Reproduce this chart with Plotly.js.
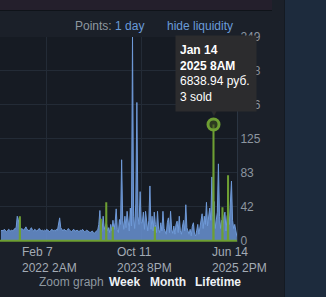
<!DOCTYPE html>
<html>
<head>
<meta charset="utf-8">
<script src="https://cdn.plot.ly/plotly-3.0.1.min.js"></script>
<style>
html,body{margin:0;padding:0;background:#1b2029;overflow:hidden;}
#chart{width:326px;height:297px;}
</style>
</head>
<body>
<div id="chart"></div>
<script>
// Weekly liquidity (blue) series, first week starting 2021-04-17
const blueStart = '2021-04-17';
const blueValues = [
  12,13,12,14,13,11,12,14,13,12,
  13,12,14,15,16,30,26,14,13,15,
  14,13,15,17,14,13,12,14,16,13,
  12,14,13,12,13,15,14,12,13,12,
  13,12,14,13,12,11,13,14,12,13,
  12,14,13,20,28,16,13,12,14,13,
  12,13,15,13,12,11,13,14,12,12,
  13,12,11,13,12,14,12,11,12,13,
  12,11,10,11,12,10,9,11,12,13,
  20,37,10,12,30,14,18,22,12,16,
  10,20,12,25,14,22,39,14,10,26,
  20,99,25,14,30,16,36,20,12,40,
  18,250,30,15,45,169,30,20,60,22,
  22,35,14,36,20,12,25,67,14,30,
  12,35,20,10,36,14,10,22,12,36,
  15,10,8,22,28,10,36,14,9,18,
  8,20,24,10,30,12,8,18,25,12,
  44,16,10,8,14,6,18,22,8,6,
  12,20,8,16,26,33,15,30,20,47,
  18,28,40,25,78,30,48,15,28,35,
  94,30,15,25,10,30,35,12,30,35,
  20,40,73,25,15,20,10,5
];

// Price / sales (green) series
const greenDates = [
  '2021-04-11','2021-08-16','2021-08-17','2021-08-18',
  '2023-01-19','2023-01-20','2023-01-21',
  '2023-02-23','2023-02-24','2023-02-25',
  '2023-04-06','2023-04-07','2023-04-08',
  '2024-01-02','2024-01-03','2024-01-04',
  '2025-01-13','2025-01-14 08:00','2025-01-15',
  '2025-03-12','2025-03-13','2025-03-14',
  '2025-04-17','2025-04-18','2025-04-19',
  '2025-06-14 14:00'
];
const greenValues = [
  0,0,30,0,
  0,27,0,
  0,47,0,
  0,17,0,
  0,17,0,
  0,142,0,
  0,41,0,
  0,80,0,
  0
];

// Hovered point
const hoverDate = ['2025-01-14 08:00'];
const hoverValue = [142];
const hoverText = '<b>Jan 14</b><br><b>2025 8AM</b><br>6838.94 руб.<br>3 sold';

// Axes
const xTickDates = ['2022-02-07 02:00','2023-10-11 20:00','2025-06-14 14:00'];
const xTickTexts = ['Feb 7<br>2022 2AM','Oct 11<br>2023 8PM','Jun 14<br>2025 2PM'];
const yTickVals = [0,42,83,125,166,208,249];
const yTickText = ['0','42','83','125','166','208','249'];
const xRange = ['2021-04-11','2025-06-14 14:00'];

// build weekly dates
const blueDates = [];
{
  const d0 = new Date(blueStart + 'T00:00:00Z');
  for (let i = 0; i < blueValues.length; i++) {
    const d = new Date(d0.getTime() + i * 7 * 86400000);
    blueDates.push(d.toISOString().slice(0,10));
  }
}

const FONT = 'Liberation Sans, Arial, sans-serif';
const traces = [
  {
    x: blueDates, y: blueValues, type: 'scatter', mode: 'lines',
    line: {color: '#6f9ad8', width: 1, shape: 'linear'},
    fill: 'tozeroy', fillcolor: 'rgba(104,146,210,0.85)', hoverinfo: 'skip'
  },
  {
    x: greenDates, y: greenValues, type: 'scatter', mode: 'lines',
    line: {color: '#6e9f33', width: 2}, hoverinfo: 'skip'
  },
  {
    x: hoverDate, y: hoverValue, type: 'scatter', mode: 'markers',
    marker: {symbol: 'circle', size: 11, color: 'rgba(60,80,30,0.6)', line: {color: '#6e9f33', width: 3}},
    hoverinfo: 'skip', cliponaxis: false
  }
];

const annotations = [];
for (let i = 0; i < xTickDates.length; i++) {
  annotations.push({
    xref: 'x', yref: 'paper', x: xTickDates[i], y: 0,
    xanchor: 'left', yanchor: 'top', xshift: -27, yshift: -1, align: 'left',
    showarrow: false, text: xTickTexts[i],
    font: {family: FONT, size: 12, color: '#a3abb5'}
  });
}
const P = v => v/237, Q = v => (242 - v)/205;
annotations.push(
  {xref:'paper', yref:'paper', x: P(73), y: Q(26), xanchor:'left', yanchor:'middle', showarrow:false,
   text:'<span style="color:#8f98a0">Points: </span><span style="color:#6a9bd8">1 day</span>',
   font:{family:FONT, size:12, color:'#8f98a0'}},
  {xref:'paper', yref:'paper', x: P(165), y: Q(26), xanchor:'left', yanchor:'middle', showarrow:false,
   text:'hide liquidity', font:{family:FONT, size:12, color:'#6a9bd8'}},
  {xref:'paper', yref:'paper', x: P(37), y: Q(282), xanchor:'left', yanchor:'middle', showarrow:false,
   text:'Zoom graph', font:{family:FONT, size:12, color:'#8f98a0'}},
  {xref:'paper', yref:'paper', x: P(107), y: Q(282), xanchor:'left', yanchor:'middle', showarrow:false,
   text:'<b>Week</b>', font:{family:FONT, size:12, color:'#eef2f6'}},
  {xref:'paper', yref:'paper', x: P(148), y: Q(282), xanchor:'left', yanchor:'middle', showarrow:false,
   text:'<b>Month</b>', font:{family:FONT, size:12, color:'#eef2f6'}},
  {xref:'paper', yref:'paper', x: P(193), y: Q(282), xanchor:'left', yanchor:'middle', showarrow:false,
   text:'<b>Lifetime</b>', font:{family:FONT, size:12, color:'#eef2f6'}},
  {xref:'x', yref:'y', x: hoverDate[0], y: hoverValue[0], xanchor:'center', yanchor:'bottom', yshift: 6,
   showarrow:false, text:'▼', font:{family:'DejaVu Sans', size:10, color:'#2c2c2e'}},
  {xref:'x', yref:'y', x: hoverDate[0], y: hoverValue[0], xanchor:'left', yanchor:'bottom',
   xshift: -39, yshift: 13, showarrow:false, align:'left',
   text: hoverText, bgcolor:'#2c2c2e', borderpad: 4, width: 72, height: 67,
   font:{family:FONT, size:12, color:'#ffffff'}}
);

const shapes = [
  {type:'rect', xref:'paper', yref:'paper', x0:P(-5), x1:P(272), y0:Q(10), y1:Q(-5), fillcolor:'#241f2c', line:{width:0}, layer:'below'},
  {type:'line', xref:'paper', yref:'paper', x0:P(0), x1:P(272), y0:Q(10.5), y1:Q(10.5), line:{color:'#0f1319', width:1}, layer:'below'},
  {type:'rect', xref:'paper', yref:'paper', x0:P(285), x1:P(330), y0:Q(300), y1:Q(-5), fillcolor:'#1d2b3d', line:{width:0}, layer:'below'},
  {type:'line', xref:'paper', yref:'paper', x0:P(284.5), x1:P(284.5), y0:Q(300), y1:Q(-5), line:{color:'#141a22', width:1}, layer:'below'}
];

const layout = {
  width: 326, height: 297,
  margin: {l: 0, r: 89, t: 37, b: 55, pad: 0},
  paper_bgcolor: '#1b2029', plot_bgcolor: '#161b23',
  showlegend: false,
  font: {family: FONT, size: 12, color: '#8d96a0'},
  xaxis: {
    type: 'date', range: xRange, tickvals: xTickDates, showticklabels: false,
    showgrid: true, gridcolor: '#232b36', gridwidth: 1, zeroline: false, showline: false,
    ticks: '', fixedrange: true
  },
  yaxis: {
    side: 'right', range: [-1.5, 249], tickvals: yTickVals, ticktext: yTickText,
    tickfont: {family: FONT, size: 12, color: '#8d96a0'},
    showgrid: true, gridcolor: '#232b36', zeroline: false,
    showline: true, linecolor: '#2b3542', linewidth: 1, ticks: '', fixedrange: true
  },
  annotations: annotations,
  shapes: shapes
};

Plotly.newPlot('chart', traces, layout, {staticPlot: true, displayModeBar: false});
</script>
</body>
</html>
